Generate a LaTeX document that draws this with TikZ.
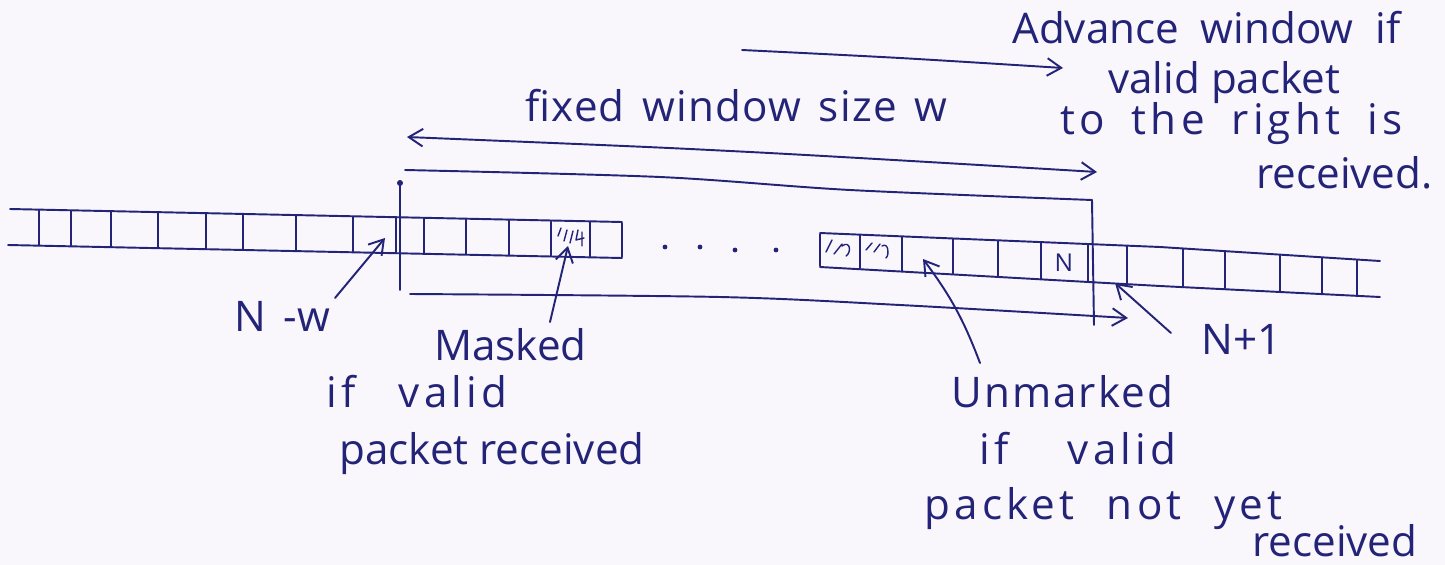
\documentclass[tikz,border=0pt]{standalone}
\usepackage{fontspec}
\setmainfont{Open Sans}
\usetikzlibrary{arrows.meta}
\definecolor{ink}{RGB}{35,35,120}
\definecolor{paper}{RGB}{249,247,252}
\newcommand\wbox[2]{\makebox[#1][s]{#2}}
\newcommand\lsp[1]{\addfontfeature{LetterSpace=#1}}
\begin{document}
\begin{tikzpicture}[x=0.02cm,y=-0.02cm,
  inkline/.style={draw=ink,line width=1.1pt,line cap=round,line join=round},
  lbl/.style={text=ink,font=\fontsize{24}{28}\selectfont,inner sep=0pt,anchor=base west},
  small/.style={text=ink,font=\fontsize{14}{16}\selectfont,inner sep=0pt},
  tipend/.style={-{Straight Barb[length=8pt,width=10pt]}},
  tipboth/.style={{Straight Barb[length=8pt,width=10pt]}-{Straight Barb[length=8pt,width=10pt]}}]
\fill[paper] (0,0) rectangle (1445,565);
\useasboundingbox (0,0) rectangle (1445,565);

% ---- left strip (before and into the window)
\draw[inkline] (10,209) -- (622,222);
\draw[inkline] (8,245) -- (622,258);
\foreach \x in {39,71,111,158,206,243,296,353,396,424,466,509,551,590,622}
  \draw[inkline] (\x,{209+13*(\x-5)/617+1}) -- (\x,{245+13*(\x-5)/617-1});
% hatched (marked) cell
\draw[inkline,line width=0.8pt] (558,236) -- (561,228) (564,241) -- (567,230) (570,243) -- (573,231);
\draw[inkline,line width=0.8pt] (578,230) -- (576,240) -- (584,238) (582,232) -- (582,246);

% ---- dots
\foreach \p in {(665,247),(700,247),(735,250),(776,250)} \fill[ink] \p circle (2.4);

% ---- middle / right strip
\draw[inkline] (820,233) -- (1160,247) -- (1380,261);
\draw[inkline] (820,267) -- (1160,286) -- (1380,297);
\foreach \x in {820,860,902,953,998,1041,1088,1127}
  \draw[inkline] (\x,{233+14*(\x-820)/340+1}) -- (\x,{267+19*(\x-820)/340-1});
\foreach \x in {1183,1225,1280,1322,1357}
  \draw[inkline] (\x,{247+14*(\x-1160)/220+1}) -- (\x,{286+11*(\x-1160)/220-1});
% hatched cells
\draw[inkline,line width=0.8pt] (826,252) -- (832,240) (834,254) -- (842,244) (842,246) .. controls (850,240) and (852,252) .. (846,256);
\draw[inkline,line width=0.8pt] (866,250) -- (872,243) (874,252) -- (880,244) (882,246) .. controls (888,242) and (890,254) .. (886,258);
\node[small] (ncell) at (1064,263) {N};

% ---- window frame
\draw[inkline] plot[smooth] coordinates {(405,170) (660,177) (850,190) (1092,200)};
\draw[inkline] (400,183) -- (400,290);
\fill[ink] (400,183) circle (3);
\draw[inkline] (1092,200) -- (1094,325);
\draw[inkline,tipend] plot[smooth] coordinates {(410,294) (720,297) (900,305) (1128,318)};

% ---- fixed window size arrow
\draw[inkline,tipboth] plot[smooth] coordinates {(407,137) (750,152) (1097,172)};
\node[lbl] (fixed) at (525,121) {\wbox{8.44cm}{\lsp{3}fixed window size w}};

% ---- advance arrow and text
\draw[inkline,tipend] plot[smooth] coordinates {(742,50) (900,58) (1063,68)};
\node[lbl] (adv1) at (1012,43) {\wbox{7.76cm}{Advance window if}};
\node[lbl] (adv2) at (1108,93) {valid packet};
\node[lbl] (adv3) at (1060,134) {\wbox{6.84cm}{\lsp{10}to the right is}};
\node[lbl] (adv4) at (1256,188) {received.};

% ---- bottom labels
\node[lbl] (nw) at (234,331) {\wbox{1.92cm}{N -w}};
\node[lbl] (mk1) at (434,360) {Masked};
\node[lbl] (mk2) at (326,407) {\wbox{3.62cm}{\lsp{10}if valid}};
\node[lbl] (mk3) at (339,464) {packet received};
\node[lbl] (np1) at (1201,354) {N+1};
\node[lbl] (um1) at (951,407) {\lsp{5}Unmarked};
\node[lbl] (um2) at (979,464) {\wbox{3.94cm}{\lsp{10}if valid}};
\node[lbl] (um3) at (924,519) {\wbox{7.16cm}{\lsp{10}packet not yet}};
\node[lbl] (um4) at (1252,556) {received};

% ---- pointer arrows
\coordinate (nwS) at (335,298);   \coordinate (nwT) at (385,238);
\coordinate (mkS) at (550,322);   \coordinate (mkT) at (568,246);
\coordinate (umS) at (980,363);   \coordinate (umT) at (923,259);
\coordinate (npS) at (1171,333);  \coordinate (npT) at (1115,283);
\draw[inkline,tipend] (nwS) -- (nwT);
\draw[inkline,tipend] (mkS) -- (mkT);
\draw[inkline,tipend] (umS) to[bend right=8] (umT);
\draw[inkline,tipend] (npS) -- (npT);
\end{tikzpicture}
\end{document}
